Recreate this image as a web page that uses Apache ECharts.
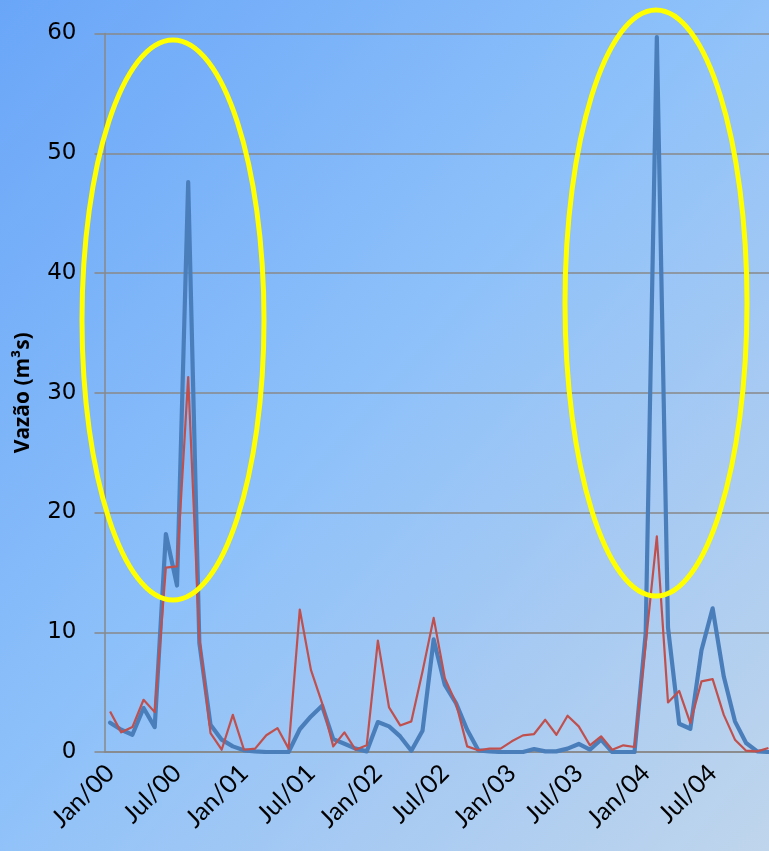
<!DOCTYPE html>
<html>
<head>
<meta charset="utf-8">
<script src="https://cdn.jsdelivr.net/npm/echarts@6/dist/echarts.min.js"></script>
<style>
  html, body { margin: 0; padding: 0; }
  #chart {
    width: 769px; height: 851px;
    background: linear-gradient(to bottom right, #6aa6f8 0%, #8cc0fa 45%, #a9cbf2 75%, #bfd5ec 100%);
  }
</style>
</head>
<body>
<div id="chart"></div>
<script>
// Monthly flow, Jan/2000 – Dez/2004
const monthNames = ['Jan', 'Fev', 'Mar', 'Abr', 'Mai', 'Jun', 'Jul', 'Ago', 'Set', 'Out', 'Nov', 'Dez'];
const years = ['00', '01', '02', '03', '04'];
const categories = [];
years.forEach(y => monthNames.forEach(m => categories.push(m + '/' + y)));

// Observed series (thick blue)
const observed = [
  2.45, 1.86, 1.44, 3.67, 2.08, 18.2, 13.9, 47.6, 9.1, 2.28,
  1.03, 0.47, 0.14, 0.05, 0, 0, 0, 1.9, 2.97, 3.86,
  1.08, 0.69, 0.28, 0.05, 2.5, 2.14, 1.3, 0.11, 1.78, 9.4,
  5.6, 4.08, 1.86, 0.14, 0.05, 0, 0, 0, 0.25, 0.05,
  0.05, 0.28, 0.67, 0.19, 1.03, 0, 0, 0, 9.9, 59.7,
  10.4, 2.36, 1.94, 8.5, 12.0, 6.3, 2.56, 0.75, 0.05, 0
];

// Simulated series (thin red)
const simulated = [
  3.39, 1.64, 2.08, 4.36, 3.33, 15.4, 15.5, 31.3, 9.5, 1.58,
  0.19, 3.1, 0.19, 0.28, 1.4, 2.0, 0.28, 11.9, 6.86, 4.08,
  0.47, 1.64, 0.19, 0.56, 9.3, 3.72, 2.22, 2.56, 6.72, 11.2,
  6.17, 4.08, 0.47, 0.14, 0.28, 0.28, 0.89, 1.39, 1.5, 2.69,
  1.44, 3.03, 2.14, 0.56, 1.31, 0.19, 0.56, 0.42, 9.0, 18.0,
  4.14, 5.1, 2.42, 5.9, 6.08, 3.1, 1.03, 0.11, 0.05, 0.33
];

const yTicks = { min: 0, max: 60, interval: 10 };

const gridGray = '#888888';
const chart = echarts.init(document.getElementById('chart'), null, { renderer: 'canvas' });

chart.setOption({
  backgroundColor: 'transparent',
  animation: false,
  grid: {
    left: 104.5, right: -5, top: 33.5, bottom: 99,
    containLabel: false,
    outerBoundsMode: 'none'
  },
  xAxis: {
    type: 'category',
    data: categories,
    boundaryGap: true,
    axisLine: { show: true, lineStyle: { color: gridGray, width: 1.5 } },
    axisTick: { show: false },
    axisLabel: {
      interval: 5,
      rotate: 45,
      margin: 17,
      color: '#000',
      fontSize: 25,
      fontFamily: 'Lato'
    },
    splitLine: { show: false }
  },
  yAxis: {
    type: 'value',
    min: yTicks.min,
    max: yTicks.max,
    interval: yTicks.interval,
    name: 'Vazão (m³s)',
    nameLocation: 'middle',
    nameRotate: 90,
    nameGap: 71,
    nameTextStyle: { color: '#000', fontSize: 21, fontWeight: 'bold', fontFamily: 'Open Sans' },
    axisLine: { show: true, lineStyle: { color: gridGray, width: 1.5 } },
    axisTick: { show: true, inside: false, length: 10, lineStyle: { color: gridGray, width: 1.5 } },
    axisLabel: { color: '#000', fontSize: 23, fontFamily: 'DejaVu Sans', margin: 28 },
    splitLine: { show: true, lineStyle: { color: gridGray, width: 1.5 } }
  },
  series: [
    {
      type: 'line',
      data: observed,
      symbol: 'none',
      lineStyle: { color: '#4a7ebb', width: 4.2, join: 'round', cap: 'round' },
      z: 2
    },
    {
      type: 'line',
      data: simulated,
      symbol: 'none',
      lineStyle: { color: '#c0504d', width: 2.2, join: 'round' },
      z: 3
    }
  ],
  graphic: [
    {
      type: 'ellipse',
      shape: { cx: 173, cy: 320, rx: 91, ry: 280 },
      style: { fill: 'none', stroke: '#ffff00', lineWidth: 5 },
      z: 10
    },
    {
      type: 'ellipse',
      shape: { cx: 656, cy: 303, rx: 91, ry: 293 },
      style: { fill: 'none', stroke: '#ffff00', lineWidth: 5 },
      z: 10
    }
  ]
});
</script>
</body>
</html>
